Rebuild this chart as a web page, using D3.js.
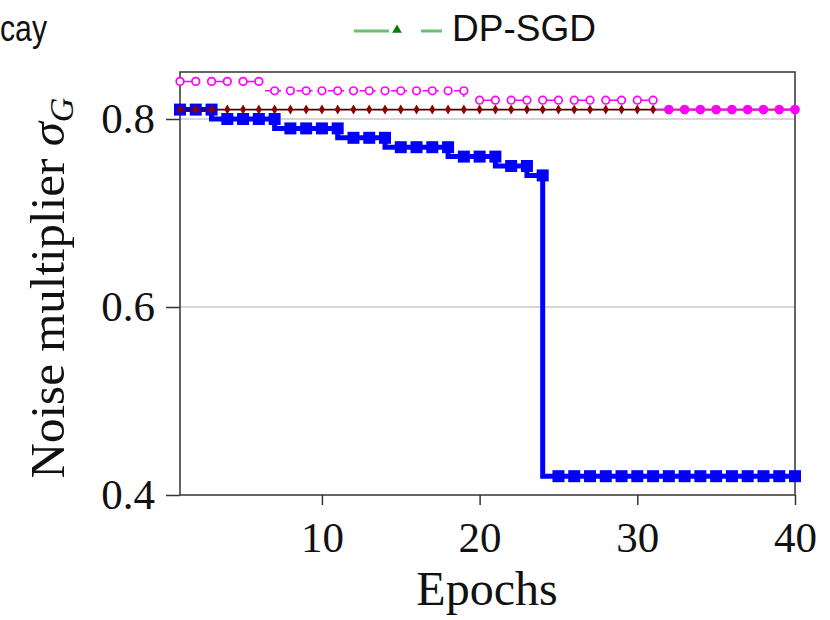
<!DOCTYPE html>
<html>
<head>
<meta charset="utf-8">
<script src="https://cdn.jsdelivr.net/npm/d3@7/dist/d3.min.js"></script>
<style>
  body { margin: 0; background: #fff; }
  svg { display: block; }
</style>
</head>
<body>
<div id="chart"></div>
<script>
////// DATEN

// Epochen (x-Achse)
var epochs = [1, 2, 3, 4, 5, 6, 7, 8, 9, 10, 11, 12, 13, 14, 15, 16, 17, 18, 19, 20,
              21, 22, 23, 24, 25, 26, 27, 28, 29, 30, 31, 32, 33, 34, 35, 36, 37, 38, 39, 40];

// blaue Treppe (Quadrate)
var blue_values = [0.81, 0.81, 0.81, 0.80, 0.80, 0.80, 0.80, 0.79, 0.79, 0.79,
                   0.79, 0.78, 0.78, 0.78, 0.77, 0.77, 0.77, 0.77, 0.76, 0.76,
                   0.76, 0.75, 0.75, 0.74, 0.42, 0.42, 0.42, 0.42, 0.42, 0.42,
                   0.42, 0.42, 0.42, 0.42, 0.42, 0.42, 0.42, 0.42, 0.42, 0.42];

// magenta Kreise (offen)
var magenta_values = [0.84, 0.84, 0.84, 0.84, 0.84, 0.84, 0.83, 0.83, 0.83, 0.83,
                      0.83, 0.83, 0.83, 0.83, 0.83, 0.83, 0.83, 0.83, 0.83, 0.82,
                      0.82, 0.82, 0.82, 0.82, 0.82, 0.82, 0.82, 0.82, 0.82, 0.82,
                      0.82, 0.81, 0.81, 0.81, 0.81, 0.81, 0.81, 0.81, 0.81, 0.81];

// dunkelrote Linie (Rauten)
var darkred_values = [0.81, 0.81, 0.81, 0.81, 0.81, 0.81, 0.81, 0.81, 0.81, 0.81,
                      0.81, 0.81, 0.81, 0.81, 0.81, 0.81, 0.81, 0.81, 0.81, 0.81,
                      0.81, 0.81, 0.81, 0.81, 0.81, 0.81, 0.81, 0.81, 0.81, 0.81,
                      0.81, 0.81, 0.81, 0.81, 0.81, 0.81, 0.81, 0.81, 0.81, 0.81];

// gefüllte magenta Punkte am Ende
var dot_epochs = [32, 33, 34, 35, 36, 37, 38, 39, 40];
var dot_values = [0.81, 0.81, 0.81, 0.81, 0.81, 0.81, 0.81, 0.81, 0.81];

// Achsenbeschriftung
var x_ticks = [10, 20, 30, 40];
var y_ticks = [0.4, 0.6, 0.8];
var grid_values = [0.6, 0.8];

////// ZEICHNEN

var width = 830, height = 620;
var serif = "'Liberation Serif', 'DejaVu Serif', serif";
var sans = "'Liberation Sans', Arial, sans-serif";

var svg = d3.select("#chart")
.append("svg")
.attr("width", width)
.attr("height", height);

var x = d3.scaleLinear().domain([1, 40]).range([180, 795]);
var y = d3.scaleLinear().domain([0.4, 0.85]).range([495, 72]);

// Gitterlinien
svg.selectAll("line.grid")
.data(grid_values)
.enter().append("line")
.attr("class", "grid")
.attr("x1", x(1))
.attr("x2", x(40))
.attr("y1", function(d) { return y(d); })
.attr("y2", function(d) { return y(d); })
.style("stroke", "#c8c8c8")
.style("stroke-width", 1.5);

// Achsen
var y_axis = svg.append("g")
.attr("transform", "translate(" + x(1) + ",0)")
.call(d3.axisLeft(y).tickValues(y_ticks).tickSize(14).tickPadding(11).tickFormat(d3.format(".1f")));

var x_axis = svg.append("g")
.attr("transform", "translate(0," + y(0.4) + ")")
.call(d3.axisBottom(x).tickValues(x_ticks).tickSize(10).tickPadding(16));

[x_axis, y_axis].forEach(function(a) {
  a.select(".domain").remove();
  a.selectAll(".tick line").style("stroke", "#333").style("stroke-width", 1.5);
  a.selectAll(".tick text")
  .style("font-family", serif)
  .style("font-size", "43px")
  .style("fill", "#111");
});

// Rahmen
svg.append("rect")
.attr("x", x(1))
.attr("y", y(0.85))
.attr("width", x(40) - x(1))
.attr("height", y(0.4) - y(0.85))
.style("fill", "none")
.style("stroke", "#333")
.style("stroke-width", 1.5);

// blaue Treppe
var blue_data = epochs.map(function(e, i) { return [e, blue_values[i]]; });
var step_line = d3.line()
.x(function(d) { return x(d[0]); })
.y(function(d) { return y(d[1]); })
.curve(d3.curveStepBefore);

svg.append("path")
.datum(blue_data)
.attr("d", step_line)
.style("fill", "none")
.style("stroke", "#0000ff")
.style("stroke-width", 5);

svg.selectAll("rect.blue")
.data(blue_data)
.enter().append("rect")
.attr("class", "blue")
.attr("x", function(d) { return x(d[0]) - 6; })
.attr("y", function(d) { return y(d[1]) - 6; })
.attr("width", 12)
.attr("height", 12)
.style("fill", "#0000ff");

// dunkelrote Linie mit Rauten
var red_data = epochs.map(function(e, i) { return [e, darkred_values[i]]; });
svg.append("path")
.datum(red_data)
.attr("d", step_line)
.style("fill", "none")
.style("stroke", "#4a0000")
.style("stroke-width", 1.6);

svg.selectAll("path.diamond")
.data(red_data)
.enter().append("path")
.attr("class", "diamond")
.attr("transform", function(d) { return "translate(" + x(d[0]) + "," + y(d[1]) + ")"; })
.attr("d", "M0,-5L3,0L0,5L-3,0Z")
.style("fill", "#8b0000");

// magenta gestrichelte Linie mit offenen Kreisen
var magenta_data = epochs.map(function(e, i) { return [e, magenta_values[i]]; });
svg.append("path")
.datum(magenta_data)
.attr("d", step_line)
.style("fill", "none")
.style("stroke", "#ff00ff")
.style("stroke-width", 1.5)
.style("stroke-dasharray", "16,15.5");

svg.selectAll("circle.open")
.data(magenta_data)
.enter().append("circle")
.attr("class", "open")
.attr("cx", function(d) { return x(d[0]); })
.attr("cy", function(d) { return y(d[1]); })
.attr("r", 3.8)
.style("fill", "#fff")
.style("stroke", "#ff00ff")
.style("stroke-width", 1.7);

// gefüllte Punkte
var dot_data = dot_epochs.map(function(e, i) { return [e, dot_values[i]]; });
svg.append("path")
.datum(dot_data)
.attr("d", step_line)
.style("fill", "none")
.style("stroke", "#ff00ff")
.style("stroke-width", 1.5);

svg.selectAll("circle.dot")
.data(dot_data)
.enter().append("circle")
.attr("class", "dot")
.attr("cx", function(d) { return x(d[0]); })
.attr("cy", function(d) { return y(d[1]); })
.attr("r", 4.6)
.style("fill", "#ff00ff");

// Achsentitel
svg.append("text")
.attr("x", 487)
.attr("y", 605)
.attr("text-anchor", "middle")
.style("font-family", serif)
.style("font-size", "48px")
.style("fill", "#111")
.text("Epochs");

var y_title = svg.append("text")
.attr("transform", "translate(64,288) rotate(-90)")
.attr("text-anchor", "middle")
.style("font-family", serif)
.style("font-size", "49px")
.style("fill", "#111");
y_title.append("tspan").text("Noise multiplier ");
y_title.append("tspan").style("font-style", "italic").text("σ");
y_title.append("tspan").style("font-style", "italic").style("font-size", "34px").attr("dy", 9).text("G");

// Legende (oben abgeschnitten)
svg.append("text")
.attr("x", 0)
.attr("y", 41)
.attr("textLength", 47)
.attr("lengthAdjust", "spacingAndGlyphs")
.style("font-family", sans)
.style("font-size", "37px")
.style("fill", "#111")
.text("cay");

svg.append("line")
.attr("x1", 354)
.attr("x2", 442)
.attr("y1", 31)
.attr("y2", 31)
.style("stroke", "#6cc06c")
.style("stroke-width", 3)
.style("stroke-dasharray", "35,32,21");

svg.append("path")
.attr("transform", "translate(397,30)")
.attr("d", d3.symbol().type(d3.symbolTriangle).size(40))
.style("fill", "#008000");

svg.append("text")
.attr("x", 452)
.attr("y", 41)
.style("font-family", sans)
.style("font-size", "37px")
.style("fill", "#111")
.text("DP-SGD");
</script>
</body>
</html>
